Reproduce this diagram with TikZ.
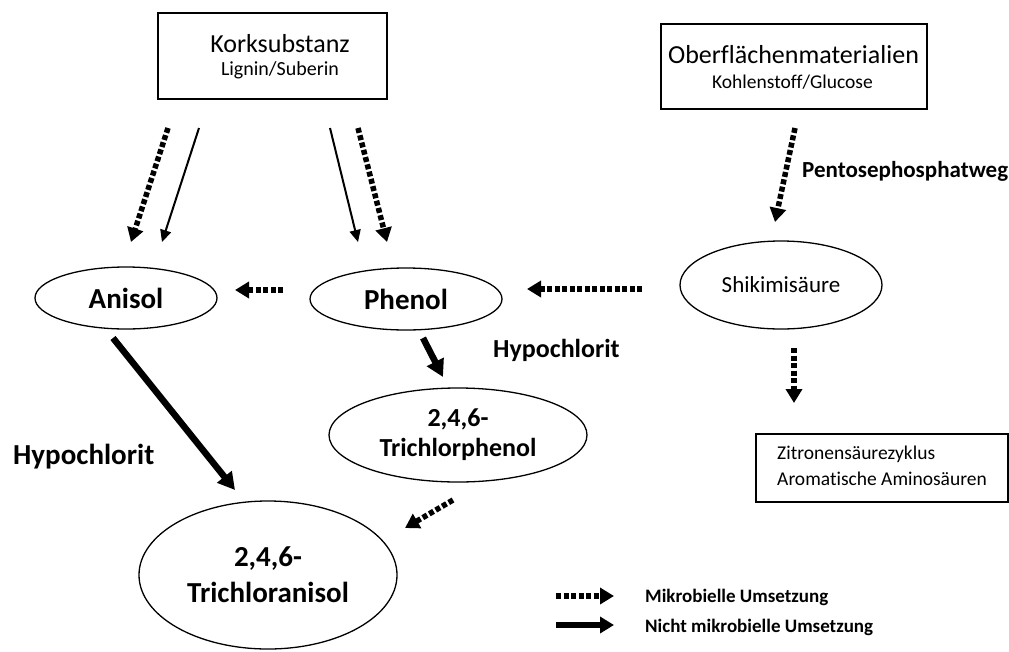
\documentclass[tikz,border=0pt]{standalone}
\usepackage{fontspec}
\setmainfont{Carlito}[Ligatures=NoCommon]
\usetikzlibrary{arrows.meta,shapes.geometric}
\begin{document}
\begin{tikzpicture}[x=1pt,y=-1pt,
  box/.style={draw, line width=1.4pt, inner sep=0pt},
  oval/.style={draw, ellipse, line width=1.3pt, inner sep=0pt, align=center},
  lbl/.style={inner sep=0pt, anchor=base west},
  mikro/.style={line width=5.5pt, dash pattern=on 5pt off 2.5pt, -{Triangle[length=14pt,width=16pt]}},
  duenn/.style={line width=2pt, -{Triangle[length=12pt,width=11pt]}},
  dick/.style={line width=6.5pt, -{Triangle[length=17pt,width=18pt]}},
  legpfeil/.style={line width=5.5pt, -{Triangle[length=14pt,width=16pt]}}]
\useasboundingbox (0,0) rectangle (1009,651);

% boxes
\node[box, minimum width=229pt, minimum height=86pt] (kork) at (272.5,56) {};
\node[inner sep=0pt, anchor=base, font=\fontsize{26}{30}\selectfont] (korkt) at (280,52) {Korksubstanz};
\node[inner sep=0pt, anchor=base, font=\fontsize{20}{24}\selectfont] (korks) at (280,75) {Lignin/Suberin};

\node[box, minimum width=266pt, minimum height=85pt] (ober) at (794,66.5) {};
\node[inner sep=0pt, anchor=base, font=\fontsize{26}{30}\selectfont] (obert) at (793.5,63) {Oberflächenmaterialien};
\node[inner sep=0pt, anchor=base, font=\fontsize{19.5}{24}\selectfont] (obers) at (792.5,88) {Kohlenstoff/Glucose};

\node[box, minimum width=252pt, minimum height=68pt] (zitr) at (882,468) {};
\node[inner sep=0pt, anchor=west, align=left, font=\fontsize{19.5}{26}\selectfont] (zitrt) at (777,466)
  {Zitronensäurezyklus\\Aromatische Aminosäuren};

% ellipses
\node[oval, minimum width=182pt, minimum height=62pt, font=\fontsize{29}{33}\selectfont\bfseries] (anisol) at (126,298) {Anisol};
\node[oval, minimum width=192pt, minimum height=62pt, font=\fontsize{29}{33}\selectfont\bfseries] (phenol) at (406,299) {Phenol};
\node[oval, minimum width=202pt, minimum height=88pt, font=\fontsize{23}{27}\selectfont] (shik) at (781,285) {Shikimisäure};
\node[oval, minimum width=258pt, minimum height=94pt, font=\fontsize{26}{30}\selectfont\bfseries] (tcp) at (458,435) {2,4,6-\\Trichlorphenol};
\node[oval, minimum width=258pt, minimum height=148pt, font=\fontsize{29}{36}\selectfont\bfseries] (tca) at (268,575) {2,4,6-\\Trichloranisol};

% labels
\node[lbl, font=\fontsize{23}{27}\selectfont\bfseries] (pent) at (802,177) {Pentosephosphatweg};
\node[lbl, font=\fontsize{26}{30}\selectfont\bfseries] (hypo1) at (493,357) {Hypochlorit};
\node[lbl, font=\fontsize{29}{33}\selectfont\bfseries] (hypo2) at (13,464) {Hypochlorit};
\node[lbl, font=\fontsize{19}{23}\selectfont\bfseries] (leg1) at (645,602) {Mikrobielle Umsetzung};
\node[lbl, font=\fontsize{19}{23}\selectfont\bfseries] (leg2) at (645,632) {Nicht mikrobielle Umsetzung};

% arrow end points
\coordinate (k1a) at (168,128); \coordinate (k1b) at (131,242);
\coordinate (k2a) at (199,128); \coordinate (k2b) at (162,242);
\coordinate (k3a) at (330,128); \coordinate (k3b) at (358,242);
\coordinate (k4a) at (358,128); \coordinate (k4b) at (387,242);
\coordinate (o1a) at (795,128); \coordinate (o1b) at (775,222);
\coordinate (s1a) at (642,289); \coordinate (s1b) at (527,289);
\coordinate (p1a) at (283,290); \coordinate (p1b) at (235,290);
\coordinate (p2a) at (423,338); \coordinate (p2b) at (443,377);
\coordinate (a1a) at (113,338); \coordinate (a1b) at (235,490);
\coordinate (t1a) at (453,500); \coordinate (t1b) at (405,528);
\coordinate (s2a) at (794,348); \coordinate (s2b) at (794,403);
\coordinate (l1a) at (556,596); \coordinate (l1b) at (614,596);
\coordinate (l2a) at (556,625); \coordinate (l2b) at (614,625);

% arrows
\draw[mikro] (k1a) -- (k1b);
\draw[duenn] (k2a) -- (k2b);
\draw[duenn] (k3a) -- (k3b);
\draw[mikro] (k4a) -- (k4b);
\draw[mikro] (o1a) -- (o1b);
\draw[mikro] (s1a) -- (s1b);
\draw[mikro] (p1a) -- (p1b);
\draw[dick] (p2a) -- (p2b);
\draw[dick] (a1a) -- (a1b);
\draw[mikro] (t1a) -- (t1b);
\draw[mikro] (s2a) -- (s2b);
\draw[mikro] (l1a) -- (l1b);
\draw[legpfeil] (l2a) -- (l2b);
\end{tikzpicture}
\end{document}
